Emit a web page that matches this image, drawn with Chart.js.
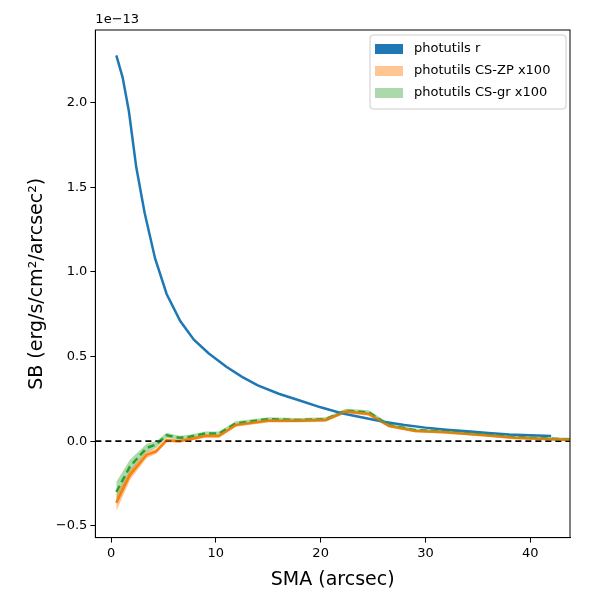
<!DOCTYPE html>
<html><head><script src="https://cdn.jsdelivr.net/npm/chart.js@4"></script>
<style>body{margin:0;background:#fff}#w{width:600px;height:600px}</style></head>
<body><div id="w"><canvas id="c"></canvas></div>
<script>
const blueX=[0.5,1.1,1.7,2.4,3.2,4.2,5.3,6.6,7.9,9.3,11,12.5,14,16,18,20,22,24,26,28,30,32,34,36,38,40,42];
const blueY=[2.28,2.15,1.95,1.62,1.35,1.08,0.87,0.71,0.6,0.52,0.44,0.38,0.33,0.28,0.24,0.2,0.165,0.14,0.115,0.095,0.08,0.068,0.058,0.048,0.04,0.035,0.03];
const csX=[0.5,1.8,3.4,4.3,5.3,6.5,7.4,9.0,10.3,11.9,15.0,17.8,20.5,22.4,24.6,26.5,29,31.8,35.6,38.4,41.6,43.8];
const zpY=[-0.365,-0.2,-0.08,-0.06,0.005,0.0,0.01,0.03,0.03,0.095,0.12,0.12,0.125,0.175,0.16,0.09,0.06,0.053,0.035,0.02,0.012,0.008];
const zpErr=[0.05,0.03,0.02,0.015,0.012,0.01,0.01,0.01,0.01,0.01,0.01,0.01,0.01,0.01,0.01,0.01,0.008,0.008,0.008,0.008,0.008,0.008];
const grY=[-0.3,-0.15,-0.04,-0.02,0.035,0.02,0.025,0.045,0.045,0.105,0.13,0.125,0.13,0.18,0.17,0.095,0.065,0.058,0.04,0.025,0.015,0.01];
const grErr=[0.06,0.04,0.025,0.02,0.015,0.012,0.012,0.012,0.012,0.012,0.012,0.012,0.012,0.012,0.012,0.012,0.01,0.01,0.01,0.01,0.01,0.01];
const yTicks=[-0.5,0,0.5,1.0,1.5,2.0];
const xTicks=[0,10,20,30,40];
const pts=(xs,ys)=>xs.map((x,i)=>({x,y:ys[i]}));
const off=(ys,es,s)=>ys.map((y,i)=>y+s*es[i]);
const C={blue:'#1f77b4',orange:'#ff7f0e',green:'#2ca02c'};
const ds=[
 {data:pts(csX,off(zpY,zpErr,-1)),borderWidth:0,pointRadius:0,fill:false},
 {data:pts(csX,off(zpY,zpErr,1)),borderWidth:0,pointRadius:0,fill:'-1',backgroundColor:'rgba(255,127,14,0.45)'},
 {data:pts(csX,off(grY,grErr,-1)),borderWidth:0,pointRadius:0,fill:false},
 {data:pts(csX,off(grY,grErr,1)),borderWidth:0,pointRadius:0,fill:'-1',backgroundColor:'rgba(44,160,44,0.4)'},
 {data:[{x:-1.5,y:0},{x:43.8,y:0}],borderColor:'#000',borderDash:[6,4],borderWidth:1.8,pointRadius:0},
 {data:pts(blueX,blueY),borderColor:C.blue,borderWidth:2.5,pointRadius:0},
 {data:pts(csX,zpY),borderColor:C.orange,borderWidth:2.5,pointRadius:0},
 {data:pts(csX,grY),borderColor:C.green,borderWidth:2.5,borderDash:[7,4],pointRadius:0}
];
const labels=[['photutils r',C.blue],['photutils CS-ZP x100','rgba(255,127,14,0.45)'],['photutils CS-gr x100','rgba(44,160,44,0.4)']];
const exp={id:'exp',afterDraw(ch){const c=ch.ctx;c.save();c.font='13px DejaVu Sans';c.fillStyle='#000';c.textAlign='left';c.textBaseline='bottom';c.fillText('1e\u221213',ch.chartArea.left,ch.chartArea.top-4);c.restore();}};
const frame={id:'frame',afterDraw(ch){const a=ch.chartArea,c=ch.ctx;c.save();c.strokeStyle='#000';c.lineWidth=1;c.strokeRect(a.left,a.top,a.right-a.left,a.bottom-a.top);c.restore();}};
const lg={id:'lg',afterDraw(ch){
 const a=ch.chartArea,c=ch.ctx;c.save();const w=196,h=74,x=a.right-w-4,y=a.top+5;
 c.fillStyle='rgba(255,255,255,0.8)';c.strokeStyle='#ccc';c.lineWidth=1;c.beginPath();c.roundRect(x,y,w,h,3);c.fill();c.stroke();
 c.font='13px DejaVu Sans';c.textBaseline='middle';
 labels.forEach((l,i)=>{const yy=y+14+i*22;c.fillStyle=l[1];c.fillRect(x+5,yy-5,28,10);c.fillStyle='#000';c.fillText(l[0],x+44,yy);});
 c.restore();}};
new Chart(document.getElementById('c'),{type:'line',data:{datasets:ds},plugins:[exp,frame,lg],
options:{responsive:true,maintainAspectRatio:false,animation:false,layout:{padding:{top:30,right:30,left:22,bottom:5}},
plugins:{tooltip:{enabled:false},legend:{display:false}},
scales:{
 x:{type:'linear',min:-1.5,max:43.8,afterBuildTicks:s=>{s.ticks=xTicks.map(v=>({value:v}))},
  ticks:{color:'#000',font:{family:'DejaVu Sans',size:13}},grid:{drawOnChartArea:false,tickLength:5,color:'#000'},border:{color:'#000'},
  title:{display:true,text:'SMA (arcsec)',color:'#000',font:{family:'DejaVu Sans',size:19}}},
 y:{min:-0.57,max:2.43,afterBuildTicks:s=>{s.ticks=yTicks.map(v=>({value:v}))},
  ticks:{color:'#000',font:{family:'DejaVu Sans',size:13},callback:v=>v.toFixed(1).replace('-','\u2212')},grid:{drawOnChartArea:false,tickLength:5,color:'#000'},border:{color:'#000'},
  title:{display:true,text:'SB (erg/s/cm\u00b2/arcsec\u00b2)',color:'#000',font:{family:'DejaVu Sans',size:19}}}
}}});
</script></body></html>
